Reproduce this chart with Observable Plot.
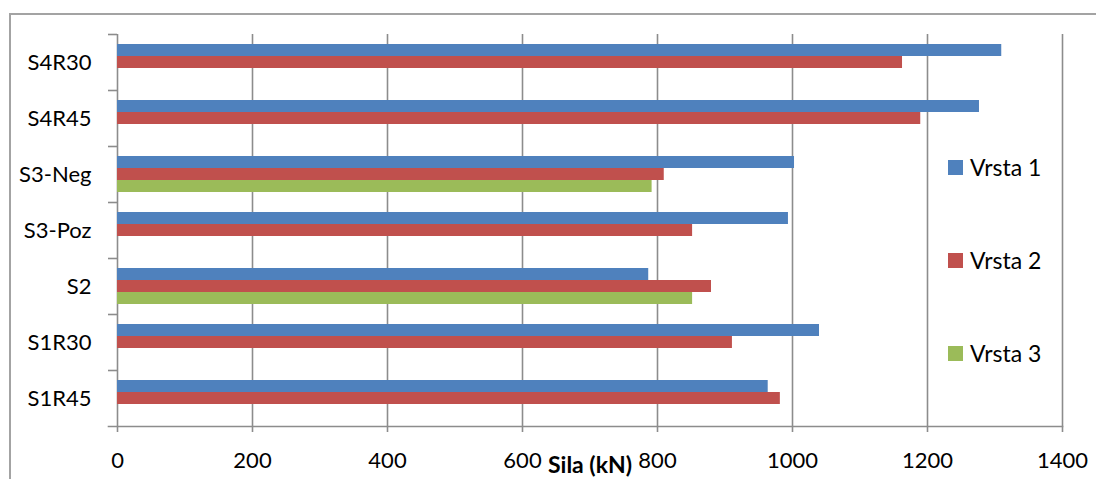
<!DOCTYPE html>
<html>
<head>
<meta charset="utf-8">
<script src="https://cdn.jsdelivr.net/npm/d3@7"></script>
<script src="https://cdn.jsdelivr.net/npm/@observablehq/plot@0.6"></script>
<style>
  html, body { margin: 0; padding: 0; background: #fff; width: 1096px; height: 479px; overflow: hidden; }
  #border { position: absolute; left: 9px; top: 13px; width: 1200px; height: 600px;
            border-left: 2px solid #a3a3a3; border-top: 2px solid #a3a3a3; }
  #chart { position: absolute; left: 0; top: 0; }
  #legend { position: absolute; left: 948px; top: 0; font-family: Lato, sans-serif; font-size: 23px; color: #000; }
  .item { position: absolute; left: 0; display: flex; align-items: center; height: 30px; white-space: nowrap; }
  .sw { width: 15px; height: 15px; margin-right: 7px; }
</style>
</head>
<body>
<div id="border"></div>
<div id="chart"></div>
<div id="legend"></div>
<script>
const categories = ["S4R30", "S4R45", "S3-Neg", "S3-Poz", "S2", "S1R30", "S1R45"];
const seriesNames = ["Vrsta 1", "Vrsta 2", "Vrsta 3"];
const vrsta1 = [1310, 1277, 1003, 994, 787, 1040, 964];
const vrsta2 = [1163, 1190, 810, 852, 880, 911, 982];
const vrsta3 = [null, null, 792, null, 852, null, null];
const colors = ["#4f81bd", "#c0504d", "#9bbb59"];
const xTicks = [0, 200, 400, 600, 800, 1000, 1200, 1400];
const axisTitle = "Sila (kN)";

const seriesValues = [vrsta1, vrsta2, vrsta3];
const rows = [];
categories.forEach((c, i) => {
  seriesNames.forEach((s, j) => {
    const v = seriesValues[j][i];
    if (v != null) rows.push({cat: c, series: s, value: v});
  });
});

const W = 1096, H = 479;
const mTop = 34, mBottom = 53, mLeft = 117, mRight = 34;
const band = (H - mTop - mBottom) / categories.length;
const gray = "#8c8c8c";
const last = categories[categories.length - 1];

const chart = Plot.plot({
  width: W, height: H,
  marginTop: mTop, marginBottom: mBottom, marginLeft: mLeft, marginRight: mRight,
  style: {fontFamily: "Lato, sans-serif", fontSize: "22px", color: "#000", background: "transparent"},
  x: {domain: [xTicks[0], xTicks[xTicks.length - 1]]},
  y: {domain: seriesNames, paddingInner: 0, paddingOuter: 0.77, axis: null},
  fy: {domain: categories, padding: 0},
  color: {domain: seriesNames, range: colors},
  marks: [
    Plot.ruleX(xTicks, {stroke: gray, strokeWidth: 1.6}),
    Plot.barX(rows, {x: "value", y: "series", fy: "cat", fill: "series"}),
    Plot.frame({anchor: "bottom", fy: [last], stroke: gray, strokeWidth: 1.6, insetLeft: -9}),
    Plot.axisFy({anchor: "left", tickSize: 0, tickPadding: 26, label: null, fill: "#000"}),
    Plot.axisFy({anchor: "left", tickSize: 9, text: null, dy: -band / 2, stroke: gray, strokeWidth: 1.6, label: null}),
    Plot.axisX({ticks: xTicks, tickSize: 6, tickPadding: 20, stroke: gray, strokeWidth: 1.6, fill: "#000",
                label: null, tickFormat: d => String(d)}),
    Plot.text([axisTitle], {frameAnchor: "bottom", fy: [last], dy: 46, fontWeight: "bold", fontSize: 23, fill: "#000"})
  ]
});
document.getElementById("chart").appendChild(chart);

const legend = document.getElementById("legend");
const legendY = [152, 245, 338];
seriesNames.forEach((s, j) => {
  const it = document.createElement("div");
  it.className = "item";
  it.style.top = legendY[j] + "px";
  const sw = document.createElement("div");
  sw.className = "sw";
  sw.style.background = colors[j];
  const t = document.createElement("span");
  t.textContent = s;
  it.appendChild(sw); it.appendChild(t);
  legend.appendChild(it);
});
</script>
</body>
</html>
